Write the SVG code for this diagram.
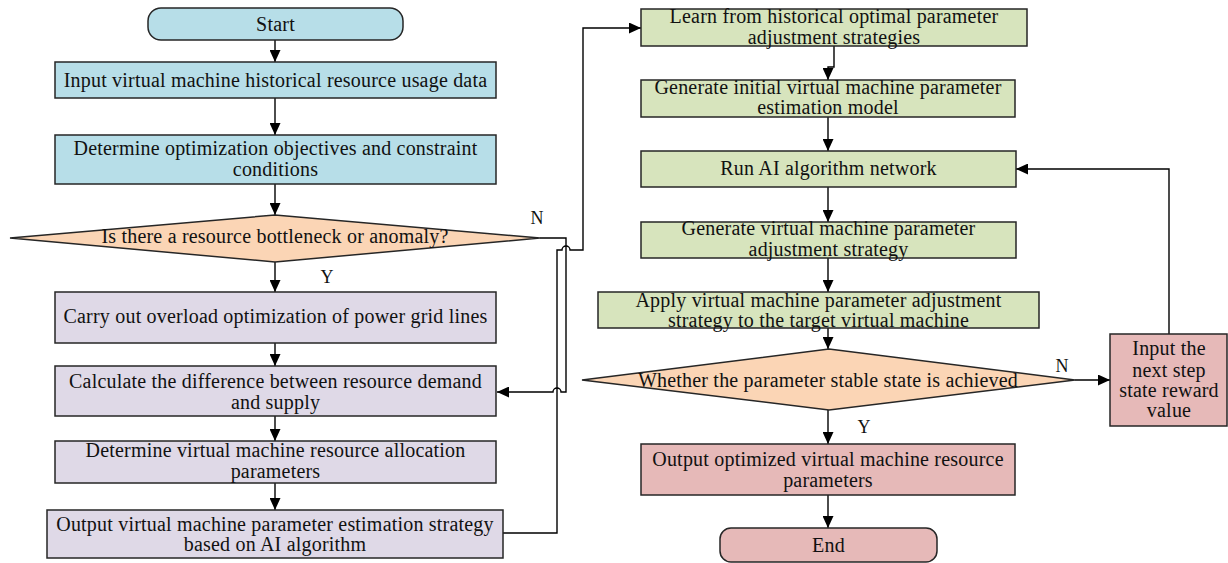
<svg xmlns="http://www.w3.org/2000/svg" width="1228" height="563" viewBox="0 0 1228 563">
  <defs>
    <marker id="arrow" markerUnits="userSpaceOnUse" markerWidth="12" markerHeight="11" refX="12" refY="5.5" orient="auto">
      <path d="M0,0 L12,5.5 L0,11 z" fill="#000"/>
    </marker>
    <style>
      .box { stroke: #262626; stroke-width: 1.5; }
      .blue { fill: #b7dee8; }
      .orange { fill: #fbd5b5; }
      .purple { fill: #dfd9e7; }
      .green { fill: #d7e4bd; }
      .pink { fill: #e6b9b8; }
      text { font-family: "Liberation Serif", "Times New Roman", serif; font-size: 20px; letter-spacing: 0.2px; fill: #111; text-anchor: middle; }
      .lbl { font-size: 18px; letter-spacing: 0; }
      .conn path { fill: none; stroke: #000; stroke-width: 1.4; }
      .conn path.arr { marker-end: url(#arrow); }
    </style>
  </defs>
  <rect width="1228" height="563" fill="#fff"/>

  <!-- connectors -->
  <g id="connectors" class="conn">
    <path class="arr" d="M275,40 V62"/>
    <path class="arr" d="M275,98 V135"/>
    <path class="arr" d="M275,184 V215"/>
    <path class="arr" d="M275,262 V292"/>
    <path class="arr" d="M275,343 V366"/>
    <path class="arr" d="M275,416 V441"/>
    <path class="arr" d="M275,483 V510"/>
    <path class="arr" d="M540,238 H566 V392 H561 A4,4 0 0 0 553,392 H497"/>
    <path class="arr" d="M503,533 H557 V250 H562 A4,4 0 0 1 570,250 H583 V28 H641"/>
    <path class="arr" d="M834,46 V67 H828 V80"/>
    <path class="arr" d="M828,117 V151"/>
    <path class="arr" d="M828,187 V222"/>
    <path class="arr" d="M828,258 V292"/>
    <path class="arr" d="M828,328 V349"/>
    <path class="arr" d="M1075,380 H1110"/>
    <path class="arr" d="M1169,334 V169 H1016"/>
    <path class="arr" d="M828,410 V444"/>
    <path class="arr" d="M828,495 V528"/>
    <text class="lbl" x="537" y="224">N</text>
    <text class="lbl" x="327" y="283">Y</text>
    <text class="lbl" x="1062" y="372">N</text>
    <text class="lbl" x="864" y="433">Y</text>
  </g>

  <!-- left column -->
  <g id="start">
    <rect class="box blue" x="148" y="8" width="255" height="32" rx="13"/>
    <text x="275.5" y="31">Start</text>
  </g>
  <g id="input-data">
    <rect class="box blue" x="55" y="62" width="441" height="36"/>
    <text x="275.5" y="87">Input virtual machine historical resource usage data</text>
  </g>
  <g id="objectives">
    <rect class="box blue" x="55" y="135" width="441" height="49"/>
    <text x="275.5" y="155">Determine optimization objectives and constraint</text>
    <text x="275.5" y="176">conditions</text>
  </g>
  <g id="bottleneck-check">
    <polygon class="box orange" points="10,238 275,215 540,238 275,262"/>
    <text x="275" y="243">Is there a resource bottleneck or anomaly?</text>
  </g>
  <g id="overload">
    <rect class="box purple" x="55" y="292" width="441" height="51"/>
    <text x="275.5" y="323">Carry out overload optimization of power grid lines</text>
  </g>
  <g id="difference">
    <rect class="box purple" x="55" y="366" width="441" height="50"/>
    <text x="275.5" y="388">Calculate the difference between resource demand</text>
    <text x="275.5" y="409">and supply</text>
  </g>
  <g id="allocation">
    <rect class="box purple" x="55" y="441" width="441" height="42"/>
    <text x="275.5" y="457">Determine virtual machine resource allocation</text>
    <text x="275.5" y="478">parameters</text>
  </g>
  <g id="estimation-strategy">
    <rect class="box purple" x="47" y="510" width="456" height="48"/>
    <text x="275" y="531">Output virtual machine parameter estimation strategy</text>
    <text x="275" y="551">based on AI algorithm</text>
  </g>

  <!-- right column -->
  <g id="learn">
    <rect class="box green" x="641" y="9" width="386" height="37"/>
    <text x="834" y="23">Learn from historical optimal parameter</text>
    <text x="834" y="43.5">adjustment strategies</text>
  </g>
  <g id="initial-model">
    <rect class="box green" x="641" y="80" width="374" height="37"/>
    <text x="828" y="94">Generate initial virtual machine parameter</text>
    <text x="828" y="114">estimation model</text>
  </g>
  <g id="run-ai">
    <rect class="box green" x="641" y="151" width="375" height="36"/>
    <text x="828.5" y="175">Run AI algorithm network</text>
  </g>
  <g id="adjust-strategy">
    <rect class="box green" x="641" y="222" width="375" height="36"/>
    <text x="828.5" y="235">Generate virtual machine parameter</text>
    <text x="828.5" y="256">adjustment strategy</text>
  </g>
  <g id="apply">
    <rect class="box green" x="598" y="292" width="441" height="36"/>
    <text x="818.5" y="307">Apply virtual machine parameter adjustment</text>
    <text x="818.5" y="327">strategy to the target virtual machine</text>
  </g>
  <g id="stable-check">
    <polygon class="box orange" points="582,380 829,349 1075,380 829,410"/>
    <text x="828" y="387">Whether the parameter stable state is achieved</text>
  </g>
  <g id="reward">
    <rect class="box pink" x="1110" y="334" width="117" height="92"/>
    <text x="1169" y="355">Input the</text>
    <text x="1169" y="377">next step</text>
    <text x="1169" y="397">state reward</text>
    <text x="1169" y="417">value</text>
  </g>
  <g id="optimized-output">
    <rect class="box pink" x="641" y="444" width="374" height="51"/>
    <text x="828" y="466">Output optimized virtual machine resource</text>
    <text x="828" y="487">parameters</text>
  </g>
  <g id="end">
    <rect class="box pink" x="720" y="528" width="217" height="34" rx="11"/>
    <text x="828.5" y="552">End</text>
  </g>
</svg>
